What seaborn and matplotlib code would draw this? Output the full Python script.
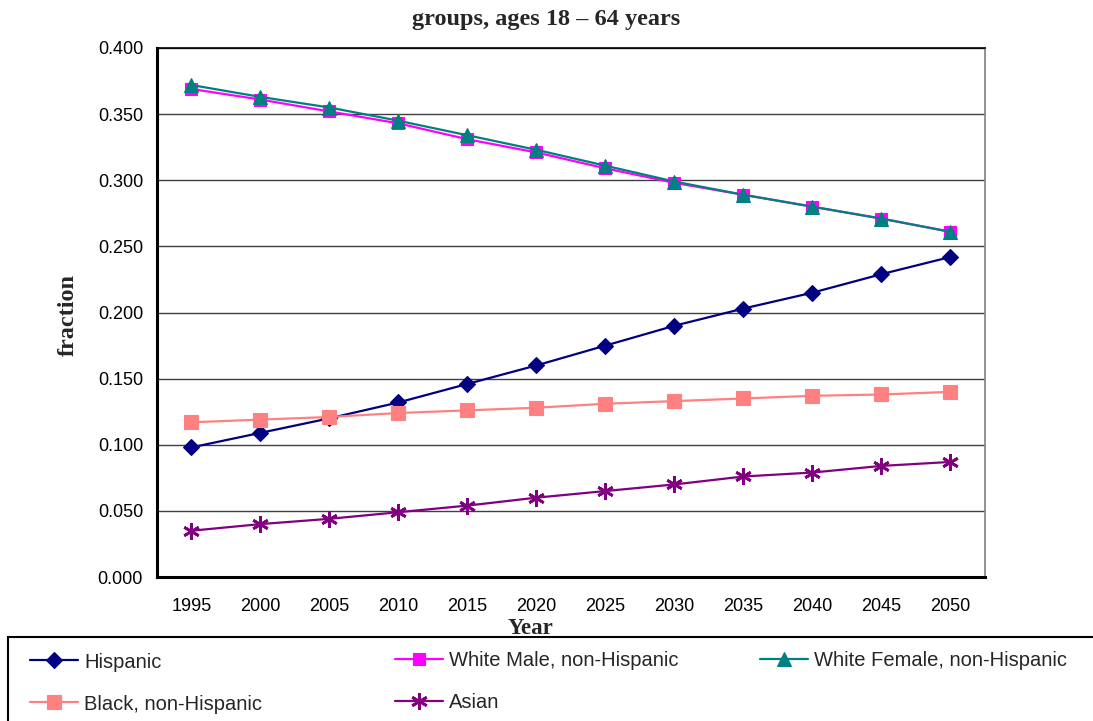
import numpy as np
import matplotlib
matplotlib.use("Agg")
import matplotlib.pyplot as plt
import seaborn as sns
from matplotlib.patches import Rectangle
from matplotlib.ticker import FormatStrFormatter

# Projected population fractions by group, ages 18-64
years = [1995, 2000, 2005, 2010, 2015, 2020, 2025, 2030, 2035, 2040, 2045, 2050]
hispanic = [0.098, 0.109, 0.120, 0.132, 0.146, 0.160, 0.175, 0.190, 0.203, 0.215, 0.229, 0.242]
white_male = [0.369, 0.361, 0.352, 0.343, 0.331, 0.321, 0.309, 0.298, 0.289, 0.280, 0.271, 0.261]
white_female = [0.372, 0.363, 0.355, 0.345, 0.334, 0.323, 0.311, 0.299, 0.289, 0.280, 0.271, 0.261]
black = [0.117, 0.119, 0.121, 0.124, 0.126, 0.128, 0.131, 0.133, 0.135, 0.137, 0.138, 0.140]
asian = [0.035, 0.040, 0.044, 0.049, 0.054, 0.060, 0.065, 0.070, 0.076, 0.079, 0.084, 0.087]

series_labels = ["Hispanic", "White Male, non-Hispanic", "White Female, non-Hispanic",
                 "Black, non-Hispanic", "Asian"]
series_values = [hispanic, white_male, white_female, black, asian]
y_ticks = [0.0, 0.05, 0.10, 0.15, 0.20, 0.25, 0.30, 0.35, 0.40]

styles = [
    dict(color="#000080", marker="D", markersize=8.5, markeredgewidth=0.8),
    dict(color="#FF00FF", marker="s", markersize=8, markeredgewidth=0.8),
    dict(color="#008080", marker="^", markersize=9.5, markeredgewidth=0.8),
    dict(color="#FF8080", marker="s", markersize=9.5, markeredgewidth=0.8),
    dict(color="#800080", marker=(6, 2, 0), markersize=12, markeredgewidth=2.0),
]

sns.set_style("white")
plt.rcParams["font.family"] = ["Liberation Sans", "DejaVu Sans"]

W, H = 1093, 721
fig = plt.figure(figsize=(W / 100, H / 100), dpi=100)
ax = fig.add_axes([157 / W, 1 - 577 / H, (985 - 157) / W, (577 - 48) / H])

for label, vals, st in zip(series_labels, series_values, styles):
    sns.lineplot(x=years, y=vals, ax=ax, label=label, linewidth=1.6,
                 markeredgecolor=st["color"], **st)
if ax.get_legend() is not None:
    ax.get_legend().remove()

# Axes scales and ticks
ax.set_ylim(0, 0.4)
ax.set_yticks(y_ticks)
ax.yaxis.set_major_formatter(FormatStrFormatter("%.3f"))
ax.tick_params(axis="y", length=0, pad=10, labelsize=13, labelcolor="black")

ax.set_xlim(years[0] - 2.5, years[-1] + 2.5)
ax.set_xticks([y - 2.5 for y in years] + [years[-1] + 2.5])
ax.set_xticks(years, minor=True)
ax.set_xticklabels([str(y) for y in years], minor=True)
ax.tick_params(axis="x", which="major", direction="in", length=6, width=1,
               color="black", labelbottom=False)
ax.tick_params(axis="x", which="minor", length=0, pad=15, labelsize=13,
               labelcolor="black")
ax.set_xlabel("")
ax.set_ylabel("")

ax.yaxis.grid(True, color="#404040", linewidth=1)
ax.xaxis.grid(False)
ax.set_axisbelow(True)

for side in ["left", "bottom"]:
    ax.spines[side].set_linewidth(2.2)
    ax.spines[side].set_color("black")
ax.spines["top"].set_linewidth(1.2)
ax.spines["top"].set_color("black")
ax.spines["right"].set_linewidth(1.2)
ax.spines["right"].set_color("#808080")

serif = ["Liberation Serif", "DejaVu Serif"]
fig.text(0.5, 1 - 19 / H, "groups, ages 18 \u2013 64 years", ha="center", va="center",
         family=serif, weight="bold", size=17.5)
fig.text(68 / W, 1 - 315 / H, "fraction", rotation=90, ha="center", va="center",
         family=serif, weight="bold", size=17.5)
fig.text(531 / W, 1 - 628 / H, "Year", ha="center", va="center",
         family=serif, weight="bold", size=16.5)

# Legend box along the bottom edge
fig.patches.append(Rectangle((8 / W, -0.05), 1.2, 0.05 + (1 - 637 / H),
                             transform=fig.transFigure, fill=False,
                             edgecolor="black", linewidth=1.5))

handles, labels = ax.get_legend_handles_labels()
entry_pos = {
    "Hispanic": (30, 662),
    "Black, non-Hispanic": (30, 704),
    "White Male, non-Hispanic": (395, 661),
    "Asian": (395, 703),
    "White Female, non-Hispanic": (760, 661),
}
for h, l in zip(handles, labels):
    x, y = entry_pos[l]
    fig.legend(handles=[h], labels=[l], loc="center left",
               bbox_to_anchor=(x / W, 1 - y / H), bbox_transform=fig.transFigure,
               frameon=False, borderpad=0, borderaxespad=0, fontsize=14.5,
               handlelength=2.4, handletextpad=0.3, numpoints=1)

fig.savefig("out.png", dpi=100)
